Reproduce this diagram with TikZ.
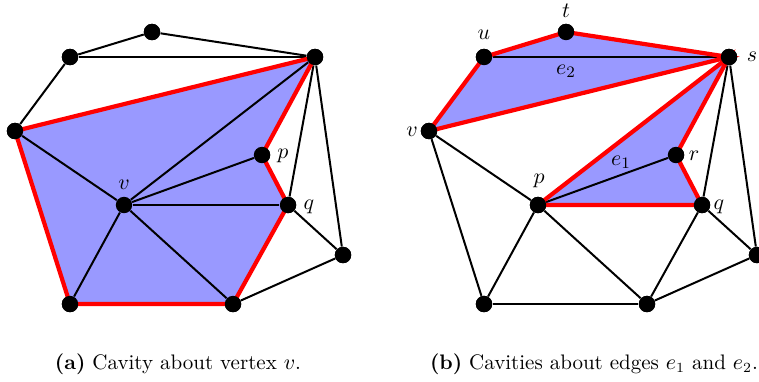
\documentclass[tikz,border=0pt]{standalone}
\begin{document}
\begin{tikzpicture}[x=0.5pt,y=-0.5pt,
  dot/.style={circle,fill=black,inner sep=0pt,minimum size=8.2pt},
  edge/.style={line width=1pt,black},
  redge/.style={line width=2.1pt,red},
  cav/.style={fill=blue!40},
  lbl/.style={inner sep=0pt,font=\fontsize{11}{13}\selectfont},
  captext/.style={anchor=base,inner sep=0pt,font=\fontsize{10.5}{12.5}\selectfont}]
\useasboundingbox (0,0) rectangle (759,381);
% ---------- left panel ----------
\node[dot] (LA) at (152,32) {};
\node[dot] (LB) at (70,57) {};
\node[dot] (LS) at (315,57) {};
\node[dot] (LL) at (15,131) {};
\node[dot] (Lp) at (262,155) {};
\node[dot] (Lv) at (124,205) {};
\node[dot] (Lq) at (288,205) {};
\node[dot] (LR) at (343,255) {};
\node[dot] (LBL) at (70,304) {};
\node[dot] (LBM) at (233,304) {};
\fill[cav] (LL.center) -- (LS.center) -- (Lp.center) -- (Lq.center) -- (LBM.center) -- (LBL.center) -- cycle;
\draw[edge] (LA) -- (LB);
\draw[edge] (LA) -- (LS);
\draw[edge] (LB) -- (LS);
\draw[edge] (LB) -- (LL);
\draw[edge] (LL) -- (Lv);
\draw[edge] (Lv) -- (LS);
\draw[edge] (Lv) -- (Lp);
\draw[edge] (Lv) -- (Lq);
\draw[edge] (Lv) -- (LBL);
\draw[edge] (Lv) -- (LBM);
\draw[edge] (LS) -- (Lq);
\draw[edge] (LS) -- (LR);
\draw[edge] (Lq) -- (LR);
\draw[edge] (LR) -- (LBM);
\draw[redge] (LL.center) -- (LS.center) -- (Lp.center) -- (Lq.center) -- (LBM.center) -- (LBL.center) -- cycle;
\foreach \n in {LA,LB,LS,LL,Lp,Lv,Lq,LR,LBL,LBM} \node[dot] at (\n) {};
\node[lbl] (Llv) at (124,185) {$v$};
\node[lbl] (Llp) at (283,156) {$p$};
\node[lbl] (Llq) at (309,207) {$q$};
\node[captext] (capa) at (178,369) {\textbf{(a)} Cavity about vertex $v$.};
% ---------- right panel ----------
\node[dot] (Rt) at (566,32) {};
\node[dot] (Ru) at (484,57) {};
\node[dot] (Rs) at (729,57) {};
\node[dot] (Rv) at (429,131) {};
\node[dot] (Rr) at (676,155) {};
\node[dot] (Rp) at (538,205) {};
\node[dot] (Rq) at (702,205) {};
\node[dot] (RR) at (757,255) {};
\node[dot] (RBL) at (484,304) {};
\node[dot] (RBM) at (647,304) {};
\fill[cav] (Rv.center) -- (Ru.center) -- (Rt.center) -- (Rs.center) -- cycle;
\fill[cav] (Rp.center) -- (Rs.center) -- (Rr.center) -- (Rq.center) -- cycle;
\draw[edge] (Ru) -- (Rs);
\draw[edge] (Rv) -- (Rp);
\draw[edge] (Rv) -- (RBL);
\draw[edge] (Rp) -- (RBL);
\draw[edge] (Rp) -- (RBM);
\draw[edge] (Rp) -- (Rr);
\draw[edge] (Rs) -- (Rq);
\draw[edge] (Rs) -- (RR);
\draw[edge] (Rq) -- (RR);
\draw[edge] (Rq) -- (RBM);
\draw[edge] (RBM) -- (RR);
\draw[edge] (RBL) -- (RBM);
\draw[redge] (Rv.center) -- (Ru.center) -- (Rt.center) -- (Rs.center) -- cycle;
\draw[redge] (Rp.center) -- (Rs.center) -- (Rr.center) -- (Rq.center) -- cycle;
\foreach \n in {Rt,Ru,Rs,Rv,Rr,Rp,Rq,RR,RBL,RBM} \node[dot] at (\n) {};
\node[lbl] (Rlt) at (566,11) {$t$};
\node[lbl] (Rlu) at (484,35) {$u$};
\node[lbl] (Rle2) at (566,71) {$e_2$};
\node[lbl] (Rls) at (752,57) {$s$};
\node[lbl] (Rlv) at (412,132) {$v$};
\node[lbl] (Rlp) at (539,181) {$p$};
\node[lbl] (Rlr) at (694,156) {$r$};
\node[lbl] (Rle1) at (621,162) {$e_1$};
\node[lbl] (Rlq) at (719,207) {$q$};
\node[captext] (capb) at (594,369) {\textbf{(b)} Cavities about edges $e_1$ and $e_2$.};
\end{tikzpicture}
\end{document}
